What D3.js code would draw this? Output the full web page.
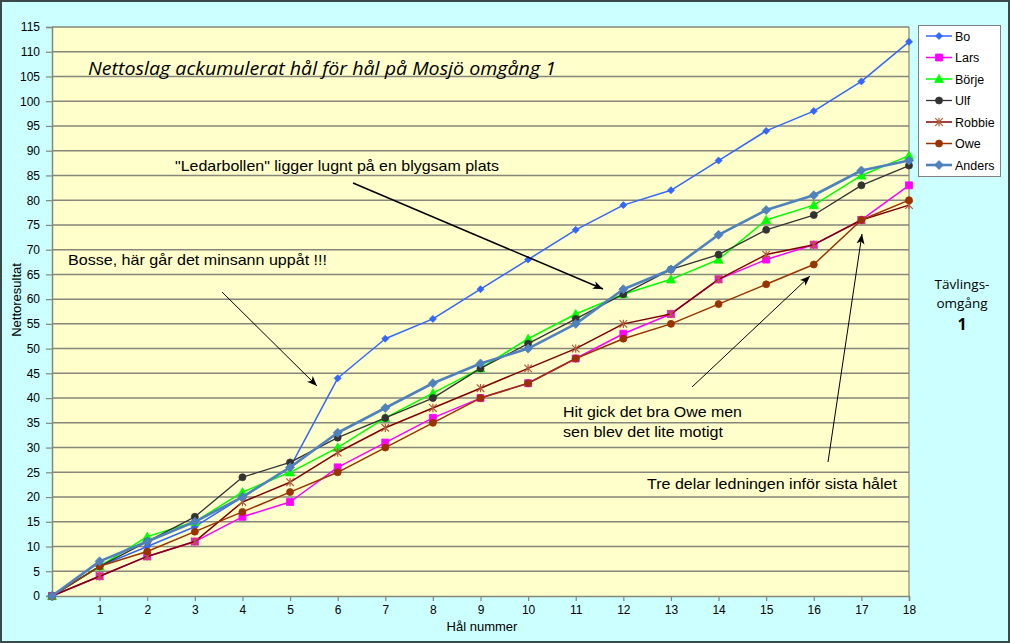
<!DOCTYPE html>
<html>
<head>
<meta charset="utf-8">
<script src="https://cdn.jsdelivr.net/npm/d3@7"></script>
<style>
  body { margin: 0; background: #fff; }
  svg { display: block; }
</style>
</head>
<body>
<div id="chart"></div>
<script>
// holes and cumulative net strokes per player
const holes = [0, 1, 2, 3, 4, 5, 6, 7, 8, 9, 10, 11, 12, 13, 14, 15, 16, 17, 18];
const bo = [0, 6, 10, 14, 20, 26, 44, 52, 56, 62, 68, 74, 79, 82, 88, 94, 98, 104, 112];
const lars = [0, 4, 8, 11, 16, 19, 26, 31, 36, 40, 43, 48, 53, 57, 64, 68, 71, 76, 83];
const borje = [0, 6, 12, 15, 21, 25, 30, 36, 41, 46, 52, 57, 61, 64, 68, 76, 79, 85, 89];
const ulf = [0, 6, 11, 16, 24, 27, 32, 36, 40, 46, 51, 56, 61, 66, 69, 74, 77, 83, 87];
const robbie = [0, 4, 8, 11, 19, 23, 29, 34, 38, 42, 46, 50, 55, 57, 64, 69, 71, 76, 79];
const owe = [0, 6, 9, 13, 17, 21, 25, 30, 35, 40, 43, 48, 52, 55, 59, 63, 67, 76, 80];
const anders = [0, 7, 11, 15, 20, 26, 33, 38, 43, 47, 50, 55, 62, 66, 73, 78, 81, 86, 88];

const xTicks = [1, 2, 3, 4, 5, 6, 7, 8, 9, 10, 11, 12, 13, 14, 15, 16, 17, 18];
const yTicks = [0, 5, 10, 15, 20, 25, 30, 35, 40, 45, 50, 55, 60, 65, 70, 75, 80, 85, 90, 95, 100, 105, 110, 115];

const series = [
    {name: "Bo", values: bo, color: "#3366FF", width: 1.5, marker: "diamond", size: 3.5, fill: "#3366FF"},
    {name: "Lars", values: lars, color: "#FF00FF", width: 1.5, marker: "square", size: 3.5, fill: "#FF00FF"},
    {name: "Börje", values: borje, color: "#00FF00", width: 1.5, marker: "triangle", size: 4.5, fill: "#00FF00"},
    {name: "Ulf", values: ulf, color: "#333333", width: 1.3, marker: "circle", size: 3.5, fill: "#333333"},
    {name: "Robbie", values: robbie, color: "#800000", width: 1.5, marker: "star", size: 3.8, fill: "#B05A3A"},
    {name: "Owe", values: owe, color: "#993300", width: 1.5, marker: "circle", size: 3.5, fill: "#993300"},
    {name: "Anders", values: anders, color: "#4F81BD", width: 2.6, marker: "diamond", size: 4.5, fill: "#4F81BD"}
];

const W = 1010, H = 643;
const plot = {left: 52, right: 909, top: 27, bottom: 596};

const svg = d3.select("#chart").append("svg")
    .attr("width", W)
    .attr("height", H);

// outer background + border
svg.append("rect")
    .attr("x", 1).attr("y", 1)
    .attr("width", W - 2).attr("height", H - 2)
    .attr("fill", "#CCFFFF")
    .attr("stroke", "#3a4a4a")
    .attr("stroke-width", 2);

const x = d3.scaleLinear().domain([0, 18]).range([plot.left, plot.right]);
const y = d3.scaleLinear().domain([0, 115]).range([plot.bottom, plot.top]);

// plot area
svg.append("rect")
    .attr("x", plot.left).attr("y", plot.top)
    .attr("width", plot.right - plot.left)
    .attr("height", plot.bottom - plot.top)
    .attr("fill", "#FFFFCC");

// gridlines
svg.append("g")
    .selectAll("line")
    .data(yTicks.filter(d => d > 0))
    .enter().append("line")
    .attr("x1", plot.left).attr("x2", plot.right)
    .attr("y1", d => y(d)).attr("y2", d => y(d))
    .attr("stroke", "#86867a")
    .attr("stroke-width", 1.5);

// right border of plot area
svg.append("line")
    .attr("x1", plot.right).attr("x2", plot.right)
    .attr("y1", plot.top).attr("y2", plot.bottom)
    .attr("stroke", "#86867a").attr("stroke-width", 1.2);

// axes
const yAxis = svg.append("g")
    .attr("transform", `translate(${plot.left},0)`)
    .call(d3.axisLeft(y).tickValues(yTicks).tickSize(6).tickPadding(6));
const xAxis = svg.append("g")
    .attr("transform", `translate(0,${plot.bottom})`)
    .call(d3.axisBottom(x).tickValues(xTicks).tickSize(5).tickPadding(4));

[xAxis, yAxis].forEach(function (g) {
    g.select(".domain").attr("stroke", "#86867a").attr("stroke-width", 1.5);
    g.selectAll(".tick line").attr("stroke", "#86867a").attr("stroke-width", 1.2);
    g.selectAll(".tick text")
        .attr("fill", "#000")
        .style("font-family", "'Liberation Sans', Arial, sans-serif")
        .style("font-size", "12px");
});

// marker shapes
function markerPath(type, s) {
    switch (type) {
        case "diamond":
            return `M0,${-s}L${s},0L0,${s}L${-s},0Z`;
        case "square":
            return `M${-s},${-s}H${s}V${s}H${-s}Z`;
        case "triangle":
            return `M0,${-s}L${s},${s * 0.8}L${-s},${s * 0.8}Z`;
        case "circle":
            return d3.symbol(d3.symbolCircle, Math.PI * s * s)();
        case "star":
            return `M${-s},${-s}L${s},${s}M${-s},${s}L${s},${-s}M0,${-s * 1.1}L0,${s * 1.1}`;
    }
}

const line = d3.line()
    .x((d, i) => x(holes[i]))
    .y(d => y(d));

const lines = svg.append("g");
series.forEach(function (s) {
    const g = lines.append("g");
    g.append("path")
        .attr("d", line(s.values))
        .attr("fill", "none")
        .attr("stroke", s.color)
        .attr("stroke-width", s.width)
        .attr("stroke-linejoin", "round");

    g.selectAll("path.marker")
        .data(s.values)
        .enter().append("path")
        .attr("class", "marker")
        .attr("transform", (d, i) => `translate(${x(holes[i])},${y(d)})`)
        .attr("d", markerPath(s.marker, s.size))
        .attr("fill", s.marker === "star" ? "none" : s.fill)
        .attr("stroke", s.fill)
        .attr("stroke-width", s.marker === "star" ? 1.2 : 0.8);
});

// axis titles
const sans = "'Liberation Sans', Arial, sans-serif";
svg.append("text")
    .attr("x", 482).attr("y", 631)
    .attr("text-anchor", "middle")
    .style("font-family", sans).style("font-size", "13px")
    .text("Hål nummer");
svg.append("text")
    .attr("transform", "translate(21,300) rotate(-90)")
    .attr("text-anchor", "middle")
    .style("font-family", sans).style("font-size", "13px")
    .text("Nettoresultat");

// chart title
svg.append("text")
    .attr("x", 88).attr("y", 75)
    .attr("textLength", 468)
    .attr("lengthAdjust", "spacingAndGlyphs")
    .style("font-family", "'Open Sans', 'Noto Sans', sans-serif")
    .style("font-style", "italic")
    .style("font-size", "19px")
    .text("Nettoslag ackumulerat hål för hål på Mosjö omgång 1");

// annotations
const notes = [
    {x: 175, y: 171, w: 324, text: "\"Ledarbollen\" ligger lugnt på en blygsam plats"},
    {x: 68, y: 265, w: 259, text: "Bosse, här går det minsann uppåt !!!"},
    {x: 563, y: 417, w: 179, text: "Hit gick det bra Owe men"},
    {x: 563, y: 437, w: 160, text: "sen blev det lite motigt"},
    {x: 647, y: 489, w: 250, text: "Tre delar ledningen inför sista hålet"}
];
svg.append("g").selectAll("text")
    .data(notes)
    .enter().append("text")
    .attr("x", d => d.x).attr("y", d => d.y)
    .attr("textLength", d => d.w)
    .attr("lengthAdjust", "spacingAndGlyphs")
    .style("font-family", sans).style("font-size", "14.5px")
    .text(d => d.text);

// arrows
const arrows = [
    {x1: 353, y1: 183, x2: 603, y2: 289, w: 1.5},
    {x1: 222, y1: 292, x2: 317, y2: 386, w: 1},
    {x1: 692, y1: 387, x2: 810, y2: 276, w: 1},
    {x1: 828, y1: 462, x2: 862, y2: 234, w: 1}
];
svg.append("defs").append("marker")
    .attr("id", "head")
    .attr("viewBox", "0 0 10 10")
    .attr("refX", 10).attr("refY", 5)
    .attr("markerUnits", "userSpaceOnUse")
    .attr("markerWidth", 12).attr("markerHeight", 10)
    .attr("orient", "auto")
    .append("path")
    .attr("d", "M0,1L10,5L0,9L2.5,5Z")
    .attr("fill", "#000");
svg.append("g").selectAll("line")
    .data(arrows)
    .enter().append("line")
    .attr("x1", d => d.x1).attr("y1", d => d.y1)
    .attr("x2", d => d.x2).attr("y2", d => d.y2)
    .attr("stroke", "#000")
    .attr("stroke-width", d => d.w)
    .attr("marker-end", "url(#head)");

// side label
const side = svg.append("g").style("font-family", "'Open Sans', 'Noto Sans', sans-serif");
side.append("text").attr("x", 962).attr("y", 289).attr("text-anchor", "middle")
    .style("font-size", "13.5px").text("Tävlings-");
side.append("text").attr("x", 962).attr("y", 308).attr("text-anchor", "middle")
    .style("font-size", "13.5px").text("omgång");
side.append("text").attr("x", 962).attr("y", 330).attr("text-anchor", "middle")
    .style("font-size", "16px").style("font-weight", "bold").text("1");

// legend
const legend = svg.append("g");
legend.append("rect")
    .attr("x", 918.5).attr("y", 25.5)
    .attr("width", 82).attr("height", 151)
    .attr("fill", "#fff")
    .attr("stroke", "#808080");
const item = legend.selectAll("g.item")
    .data(series)
    .enter().append("g")
    .attr("class", "item")
    .attr("transform", (d, i) => `translate(0,${36 + i * 21.5})`);
item.append("line")
    .attr("x1", 926).attr("x2", 952)
    .attr("stroke", d => d.color)
    .attr("stroke-width", d => d.width);
item.append("path")
    .attr("transform", "translate(939,0)")
    .attr("d", d => markerPath(d.marker, d.size))
    .attr("fill", d => d.marker === "star" ? "none" : d.fill)
    .attr("stroke", d => d.fill)
    .attr("stroke-width", d => d.marker === "star" ? 1.2 : 0.8);
item.append("text")
    .attr("x", 955).attr("y", 4.5)
    .style("font-family", sans).style("font-size", "12.5px")
    .text(d => d.name);
</script>
</body>
</html>
